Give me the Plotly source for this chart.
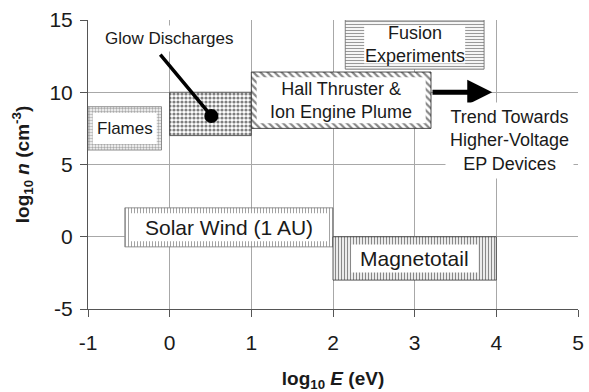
import plotly.graph_objects as go

# Plasma regimes: energy range (log10 eV) and density range (log10 cm^-3)
regimes = ["Flames", "Glow Discharges", "Hall Thruster &<br>Ion Engine Plume",
           "Fusion<br>Experiments", "Solar Wind (1 AU)", "Magnetotail"]
e_lo = [-1.0, 0.0, 1.0, 2.15, -0.55, 2.0]
e_hi = [-0.1, 1.0, 3.2, 3.85, 2.0, 4.0]
n_lo = [6.0, 7.0, 7.5, 11.6, -0.7, -3.0]
n_hi = [9.0, 10.0, 11.4, 15.0, 2.0, 0.0]

# Pointer from the glow-discharge label into its box
glow_ptr_e = [-0.13, 0.51]
glow_ptr_n = [12.7, 8.36]
glow_label_pos = (0.0, 13.75)

# Trend arrow toward higher energies
trend_e = [3.2, 3.95]
trend_n = [10.0, 10.0]
trend_label_pos = (4.16, 6.63)

x_ticks = [-1, 0, 1, 2, 3, 4, 5]
x_tick_text = ["-1", "0", "1", "2", "3", "4", "5"]
y_ticks = [-5, 0, 5, 10, 15]
y_tick_text = ["-5", "0", "5", "10", "15"]

# fill pattern, label box (w, h px), label font size for each regime
styles = [
    dict(shape=".", fg="#555555", size=3, solidity=0.5, line="#777777"),
    dict(shape=".", fg="#000000", size=4, solidity=0.5, line="#333333"),
    dict(shape="\\", fg="#111111", size=5, solidity=0.45, line="#222222"),
    dict(shape="-", fg="#333333", size=3, solidity=0.4, line="#666666"),
    dict(shape="|", fg="#333333", size=3, solidity=0.3, line="#777777"),
    dict(shape="|", fg="#111111", size=3, solidity=0.45, line="#333333"),
]
boxes = [(64, 31), None, (169, 46), (101, 38), (198, 28), (127, 28)]
label_sizes = [17, 17, 18, 18, 21, 21]

FONT = "Liberation Sans, Arial, sans-serif"
TXT = "#1a1a1a"

fig = go.Figure()

for i, name in enumerate(regimes):
    s = styles[i]
    fig.add_trace(go.Scatter(
        x=[e_lo[i], e_hi[i], e_hi[i], e_lo[i], e_lo[i]],
        y=[n_lo[i], n_lo[i], n_hi[i], n_hi[i], n_lo[i]],
        mode="lines", fill="toself",
        fillpattern=dict(shape=s["shape"], fgcolor=s["fg"], bgcolor="white",
                         size=s["size"], solidity=s["solidity"]),
        line=dict(color=s["line"], width=0.8),
        hoverinfo="skip", showlegend=False,
    ))

shapes = []
annotations = []
for i, name in enumerate(regimes):
    cx = (e_lo[i] + e_hi[i]) / 2
    cy = (n_lo[i] + n_hi[i]) / 2
    if boxes[i] is not None:
        w, h = boxes[i]
        shapes.append(dict(
            type="rect", xref="x", yref="y",
            xsizemode="pixel", ysizemode="pixel",
            xanchor=cx, yanchor=cy,
            x0=-w / 2, x1=w / 2, y0=-h / 2, y1=h / 2,
            fillcolor="white", line=dict(width=0), layer="above",
        ))
        annotations.append(dict(
            x=cx, y=cy, xref="x", yref="y", text=name, showarrow=False,
            font=dict(family=FONT, size=label_sizes[i], color=TXT),
        ))

# Glow discharges label and pointer
annotations.append(dict(
    x=glow_label_pos[0], y=glow_label_pos[1], xref="x", yref="y",
    text=regimes[1], showarrow=False, bgcolor="white", borderpad=3,
    font=dict(family=FONT, size=17, color=TXT),
))
annotations.append(dict(
    x=glow_ptr_e[1], y=glow_ptr_n[1], ax=glow_ptr_e[0], ay=glow_ptr_n[0],
    xref="x", yref="y", axref="x", ayref="y", text="",
    showarrow=True, arrowhead=6, arrowsize=1.0, arrowwidth=3.5,
    arrowcolor="black",
))

# Trend arrow and its caption
annotations.append(dict(
    x=trend_e[1], y=trend_n[1], ax=trend_e[0], ay=trend_n[0],
    xref="x", yref="y", axref="x", ayref="y", text="",
    showarrow=True, arrowhead=2, arrowsize=1.0, arrowwidth=5,
    arrowcolor="black",
))
annotations.append(dict(
    x=trend_label_pos[0], y=trend_label_pos[1], xref="x", yref="y",
    text="Trend Towards<br>Higher-Voltage<br>EP Devices", showarrow=False,
    bgcolor="white", borderpad=4,
    font=dict(family=FONT, size=18, color=TXT),
))

axis_common = dict(
    showgrid=True, gridcolor="#a8a8a8", gridwidth=1,
    showline=True, linecolor="#555555", linewidth=1,
    ticks="outside", ticklen=7, tickcolor="#555555",
    zeroline=False, automargin=False,
    tickfont=dict(family=FONT, size=21, color=TXT),
)

fig.update_layout(
    width=589, height=392,
    margin=dict(l=88, r=11, t=20, b=83),
    paper_bgcolor="white", plot_bgcolor="white",
    shapes=shapes, annotations=annotations,
    xaxis=dict(
        range=[-1, 5], tickvals=x_ticks, ticktext=x_tick_text,
        ticklabelstandoff=8, **axis_common,
        title=dict(text="<b>log<sub>10</sub> <i>E</i> (eV)</b>",
                   font=dict(family=FONT, size=19, color=TXT), standoff=21),
    ),
    yaxis=dict(
        range=[-5, 15], tickvals=y_ticks, ticktext=y_tick_text,
        ticklabelstandoff=3, **axis_common,
        title=dict(text="<b>log<sub>10</sub> <i>n</i> (cm<sup>-3</sup>)</b>",
                   font=dict(family=FONT, size=19, color=TXT), standoff=14),
    ),
)

fig.write_html("out.html")
